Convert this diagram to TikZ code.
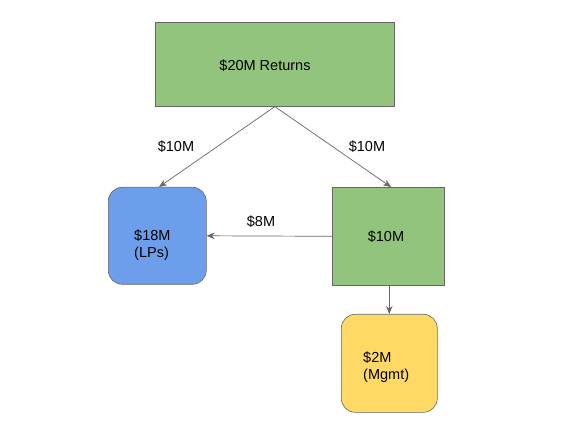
\documentclass[tikz,border=0pt]{standalone}
\usepackage{fontspec}
\setmainfont{Liberation Sans}
\usetikzlibrary{arrows.meta}
\definecolor{boxgreen}{HTML}{93C47D}
\definecolor{boxblue}{HTML}{6D9EEB}
\definecolor{boxyellow}{HTML}{FFD966}
\definecolor{edgegray}{HTML}{666666}
\begin{document}
\begin{tikzpicture}[x=1pt,y=-1pt,
  box/.style={draw=edgegray, line width=0.6pt, inner sep=0pt, anchor=north west},
  txt/.style={font=\fontsize{14.5}{17.5}\selectfont, inner sep=0pt, align=left},
  conn/.style={draw=edgegray, line width=0.7pt, -{Stealth[length=8pt,width=6.5pt]}},
  lbl/.style={font=\fontsize{14.5}{17.5}\selectfont, inner sep=0pt}]
\useasboundingbox (0,0) rectangle (562,427);
\node[box, fill=boxgreen, minimum width=239pt, minimum height=84pt] (top) at (155,22) {};
\node[box, fill=boxblue, rounded corners=14pt, minimum width=98pt, minimum height=97pt] (lp) at (108,187) {};
\node[box, fill=boxgreen, minimum width=112pt, minimum height=98pt] (mid) at (332,187) {};
\node[box, fill=boxyellow, rounded corners=14pt, minimum width=96pt, minimum height=98pt] (mg) at (341,314) {};
\node[txt] (ttop) at (265,66) {\$20M Returns};
\node[txt, anchor=west] (tlp) at (134,245) {\$18M\\(LPs)};
\node[txt] (tmid) at (386,237) {\$10M};
\node[txt, anchor=west] (tmg) at (363,367) {\$2M\\(Mgmt)};
\coordinate (lpin) at (159,187);
\coordinate (midin) at (391,187);
\draw[conn] (top.south) -- (lpin);
\draw[conn] (top.south) -- (midin);
\draw[conn] (mid.west) -- (lp.east);
\draw[conn] (mid.south -| mg.north) -- (mg.north);
\node[lbl] (l1) at (176,147) {\$10M};
\node[lbl] (l2) at (367,147) {\$10M};
\node[lbl] (l3) at (261,222) {\$8M};
\end{tikzpicture}
\end{document}
